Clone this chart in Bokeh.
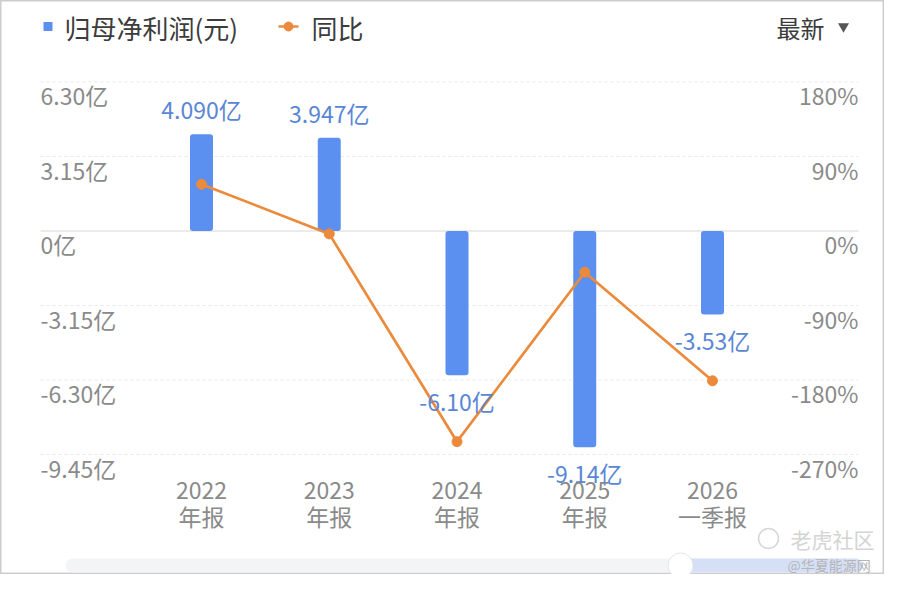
from bokeh.plotting import figure
from bokeh.models import ColumnDataSource, Range1d
from bokeh.core.properties import value
from bokeh.embed import file_html
from bokeh.resources import INLINE

# ---------------- data ----------------
years = ["2022", "2023", "2024", "2025", "2026"]
report_types = ["年报", "年报", "年报", "年报", "一季报"]
net_profit = [4.090, 3.947, -6.10, -9.14, -3.53]          # 亿元
profit_labels = ["4.090亿", "3.947亿", "-6.10亿", "-9.14亿", "-3.53亿"]
yoy_pct = [56.5, -3.5, -254.5, -49.8, -181.0]              # %
left_ticks = [6.30, 3.15, 0.0, -3.15, -6.30, -9.45]
left_tick_labels = ["6.30亿", "3.15亿", "0亿", "-3.15亿", "-6.30亿", "-9.45亿"]
right_ticks = [180, 90, 0, -90, -180, -270]
right_tick_labels = ["180%", "90%", "0%", "-90%", "-180%", "-270%"]

# ---------------- layout helpers ----------------
W, H, OFF = 884, 574, 0
DX = 127.75                      # px per category
X0 = 201                         # screen x of first category
ZERO = 230.5                     # screen y of zero line
PPU = 74.5 / 3.15                # px per 亿
PPU2 = 74.5 / 90.0               # px per %

x_start = -(X0 - OFF) / DX
x_end = x_start + W / DX
y_end = (ZERO - OFF) / PPU
y_start = y_end - H / PPU
p_end = (ZERO - OFF) / PPU2
p_start = p_end - H / PPU2


def X(sx):
    return x_start + (sx - OFF) / DX


def Y(sy):
    return y_end - (sy - OFF) / PPU


FONT = value("Noto Sans CJK SC")
BLUE = "#5b8ff0"
BLUE_TXT = "#5a86d6"
ORANGE = "#ec8a3c"
GRAY = "#8a8a8a"
DARK = "#3c3c3c"

p = figure(width=W, height=H, output_backend="svg", toolbar_location=None,
           x_range=Range1d(x_start, x_end), y_range=Range1d(y_start, y_end),
           x_axis_type=None, y_axis_type=None, min_border=0,
           background_fill_color="white", border_fill_color="white")
p.extra_y_ranges = {"pct": Range1d(p_start, p_end)}
p.outline_line_color = "#cdcdcd"
p.outline_line_width = 2

idx = list(range(len(years)))

# grid lines
non_zero = [t for t in left_ticks if t != 0]
p.segment(x0=[X(40)] * len(non_zero), x1=[X(858)] * len(non_zero), y0=non_zero, y1=non_zero,
          line_color="#e9e9e9", line_width=1, line_dash="3 3")
p.segment(x0=[X(40)], x1=[X(858)], y0=[0], y1=[0], line_color="#e4e4e4", line_width=1.5)

# bars
p.vbar(x=idx, top=net_profit, bottom=0, width=23 / DX, fill_color=BLUE, line_color=None,
       border_radius=3)

# yoy line
p.line(x=idx, y=yoy_pct, y_range_name="pct", line_color=ORANGE, line_width=2.7)
p.scatter(x=idx, y=yoy_pct, y_range_name="pct", size=10, fill_color=ORANGE, line_color=ORANGE)

# bar value labels
pos = ColumnDataSource(dict(x=[i for i in idx if net_profit[i] >= 0],
                            y=[v for v in net_profit if v >= 0],
                            t=[profit_labels[i] for i in idx if net_profit[i] >= 0]))
neg = ColumnDataSource(dict(x=[i for i in idx if net_profit[i] < 0],
                            y=[v for v in net_profit if v < 0],
                            t=[profit_labels[i] for i in idx if net_profit[i] < 0]))
p.text(x="x", y="y", text="t", source=pos, y_offset=-25, text_align="center",
       text_baseline="middle", text_font=FONT, text_font_size="23px", text_color=BLUE_TXT)
p.text(x="x", y="y", text="t", source=neg, y_offset=26, text_align="center",
       text_baseline="middle", text_font=FONT, text_font_size="23px", text_color=BLUE_TXT)

# left tick labels
p.text(x=[X(40)] * len(left_ticks), y=left_ticks, text=left_tick_labels, y_offset=13,
       text_align="left", text_baseline="middle", text_font=FONT, text_font_size="23px",
       text_color=GRAY)
# right tick labels
p.text(x=[X(858)] * len(right_ticks), y=right_ticks, text=right_tick_labels, y_offset=13,
       y_range_name="pct", text_align="right", text_baseline="middle", text_font=FONT,
       text_font_size="23px", text_color=GRAY)

# category labels
p.text(x=idx, y=[Y(490)] * len(idx), text=years, text_align="center", text_baseline="middle",
       text_font=FONT, text_font_size="23px", text_color=GRAY)
p.text(x=idx, y=[Y(515)] * len(idx), text=report_types, text_align="center",
       text_baseline="middle", text_font=FONT, text_font_size="23px", text_color=GRAY)

# legend
p.scatter(x=[X(47.5)], y=[Y(26)], marker="square", size=9, fill_color=BLUE, line_color=None)
p.text(x=[X(64)], y=[Y(27)], text=["归母净利润(元)"], text_align="left", text_baseline="middle",
       text_font=FONT, text_font_size="26px", text_color=DARK)
p.segment(x0=[X(278)], x1=[X(298)], y0=[Y(26)], y1=[Y(26)], line_color=ORANGE, line_width=2.5)
p.scatter(x=[X(288)], y=[Y(26)], size=9, fill_color=ORANGE, line_color=ORANGE)
p.text(x=[X(311)], y=[Y(27)], text=["同比"], text_align="left", text_baseline="middle",
       text_font=FONT, text_font_size="26px", text_color=DARK)
p.text(x=[X(824)], y=[Y(27)], text=["最新"], text_align="right", text_baseline="middle",
       text_font=FONT, text_font_size="24px", text_color=DARK)
p.scatter(x=[X(843)], y=[Y(26)], marker="inverted_triangle", size=11, fill_color="#555555",
          line_color=None)

# bottom range slider (decoration)
p.quad(left=[X(65)], right=[X(862)], bottom=[Y(572)], top=[Y(558)], fill_color="#f3f4f6",
       line_color=None, border_radius=7)
p.quad(left=[X(680)], right=[X(862)], bottom=[Y(572)], top=[Y(558)], fill_color="#d5e0f7",
       line_color=None, border_radius=7)
p.scatter(x=[X(680)], y=[Y(565)], size=25, fill_color="white", line_color="#e6e6e6")

# watermark
p.scatter(x=[X(768)], y=[Y(538)], size=20, fill_color=None, line_color="#d6d6d6", line_width=1.5)
p.text(x=[X(790)], y=[Y(538)], text=["老虎社区"], text_align="left", text_baseline="middle",
       text_font=FONT, text_font_size="21px", text_color="#d4d4d4")
p.text(x=[X(787)], y=[Y(564)], text=["@华夏能源网"], text_align="left", text_baseline="middle",
       text_font=FONT, text_font_size="14px", text_color="#b5b5b5")

open("out.html", "w").write(file_html(p, INLINE))
